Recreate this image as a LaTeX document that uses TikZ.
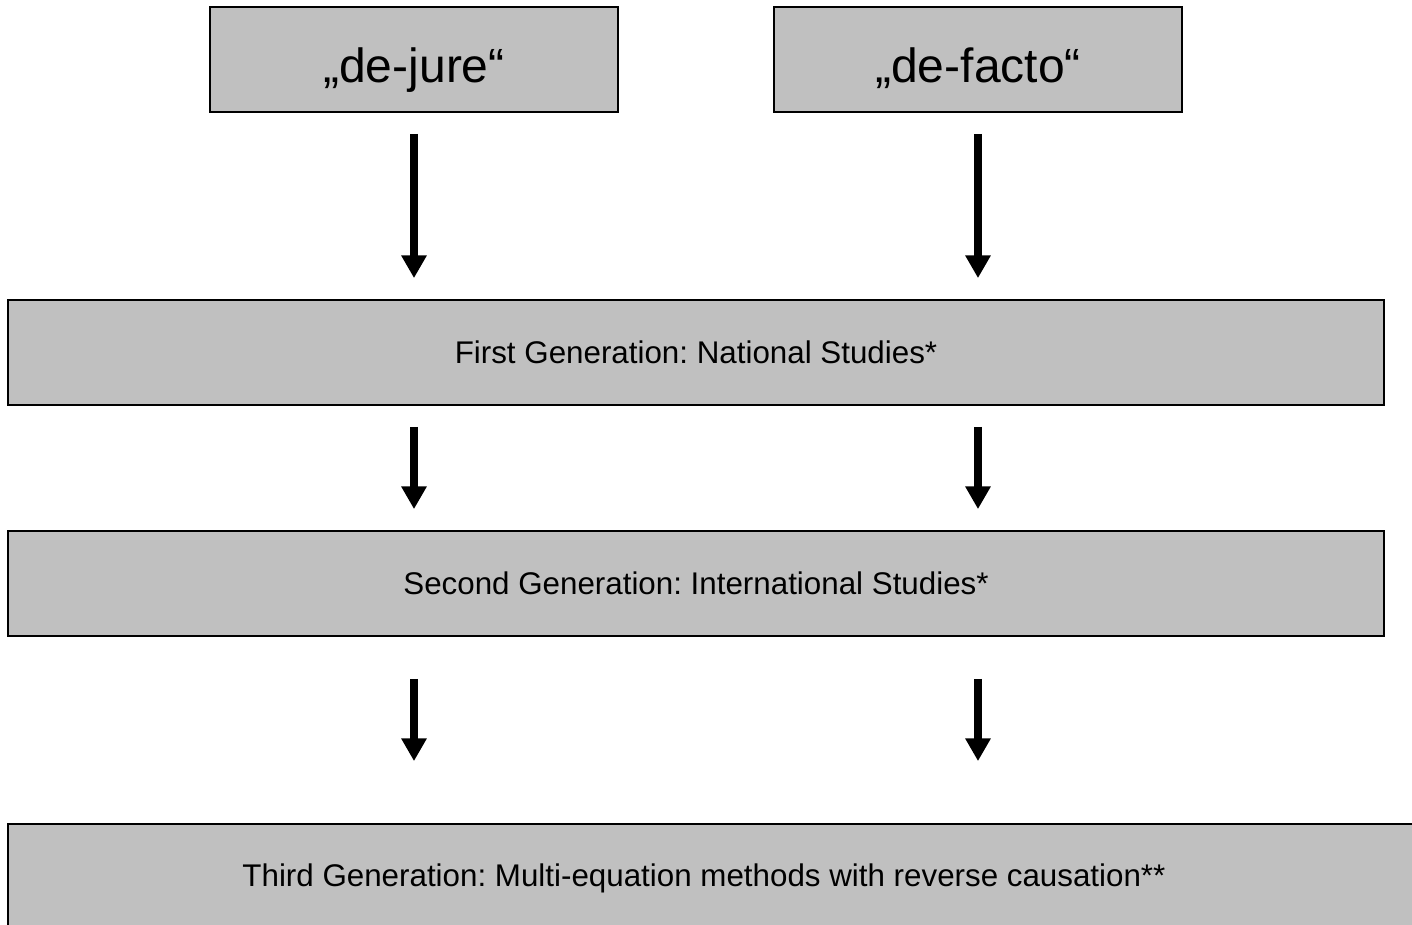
\documentclass[tikz,border=0pt]{standalone}
\usepackage{fontspec}
\setmainfont{Liberation Sans}
\usetikzlibrary{arrows.meta,calc}

\definecolor{boxgray}{HTML}{C0C0C0}
\frenchspacing

\tikzset{
  genbox/.style={draw=black, line width=1.3pt, fill=boxgray, inner sep=0pt,
    minimum height=78.75pt, font=\fontsize{23.5}{28}\selectfont},
  headbox/.style={genbox, minimum width=306pt, text height=34pt, text depth=0pt,
    font=\fontsize{36}{43}\selectfont},
  widebox/.style={genbox, minimum width=1032pt},
  flowarrow/.style={line width=5.6pt, -{Triangle[width=18pt,length=17pt]}},
  gaparrow/.style={flowarrow, shorten <=15.75pt, shorten >=15.75pt}
}

\begin{document}
\begin{tikzpicture}[x=0.75pt, y=-0.75pt]
  \useasboundingbox (0,0) rectangle (1412,924);

  % two source boxes
  \node[headbox] (jure)  at (414,59.5) {„de-jure“};
  \node[headbox] (facto) at (978,59.5) {„de-facto“};

  % generation boxes
  \node[widebox] (first)  at (696,352.5) {First Generation: National Studies*};
  \node[widebox] (second) at (696,583.5) {Second Generation: International Studies*};
  \node[genbox, minimum width=1066.5pt, minimum height=81pt] (third) at (719,878) {};
  \node[font=\fontsize{23.5}{28}\selectfont, inner sep=0pt] (thirdtext) at (704,878)
    {Third Generation: Multi-equation methods with reverse causation**};

  % arrows between the levels
  \draw[gaparrow] (jure.south)  -- (first.north -| jure.south);
  \draw[gaparrow] (facto.south) -- (first.north -| facto.south);
  \draw[gaparrow] (first.south -| jure.south)  -- (second.north -| jure.south);
  \draw[gaparrow] (first.south -| facto.south) -- (second.north -| facto.south);
  \draw[flowarrow, shorten <=31.5pt, shorten >=46.5pt]
    (second.south -| jure.south)  -- (third.north -| jure.south);
  \draw[flowarrow, shorten <=31.5pt, shorten >=46.5pt]
    (second.south -| facto.south) -- (third.north -| facto.south);
\end{tikzpicture}
\end{document}
